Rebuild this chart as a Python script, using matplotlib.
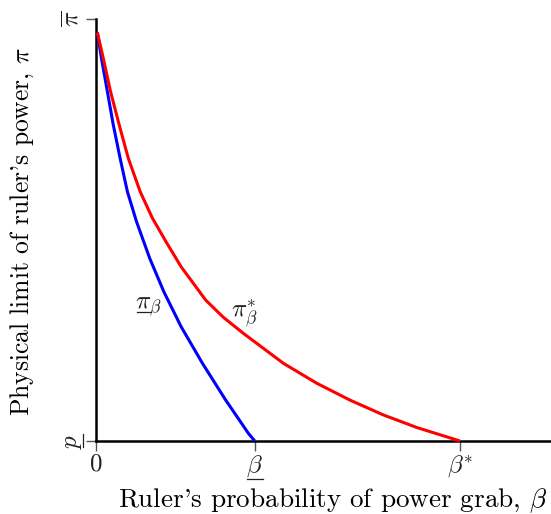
import matplotlib
matplotlib.use("Agg")
import matplotlib.pyplot as plt
from matplotlib.lines import Line2D

plt.rcParams['mathtext.fontset'] = 'cm'
plt.rcParams['font.family'] = ['cmr10', 'DejaVu Serif']
plt.rcParams['axes.formatter.use_mathtext'] = True

# data (normalized: beta axis 0..1, pi axis p=0 .. pibar=1)
beta_low = 0.349
beta_star = 0.80
red_x = [0.003, 0.016, 0.032, 0.051, 0.071, 0.097, 0.124, 0.154, 0.187, 0.241,
         0.280, 0.324, 0.412, 0.485, 0.558, 0.631, 0.705, 0.80]
red_y = [0.968, 0.907, 0.828, 0.749, 0.670, 0.591, 0.528, 0.472, 0.413, 0.334,
         0.293, 0.255, 0.184, 0.137, 0.097, 0.062, 0.032, 0.0]
blue_x = [0.003, 0.012, 0.025, 0.038, 0.053, 0.069, 0.089, 0.118, 0.149, 0.187,
          0.234, 0.285, 0.335, 0.349]
blue_y = [0.968, 0.907, 0.828, 0.749, 0.670, 0.591, 0.520, 0.433, 0.354, 0.271,
          0.184, 0.097, 0.018, 0.0]
xtick_vals = [0.0, beta_low, beta_star]
xtick_labels = ['$0$', r'$\beta$', r'$\beta^{*}$']
ytick_vals = [0.0, 1.0]
ytick_labels = ['$p$', r'$\overline{\pi}$']

W, H = 551, 514
fig = plt.figure(figsize=(W / 100, H / 100), dpi=100)
ax = fig.add_axes([96 / W, (H - 441) / H, 455 / W, 422 / H])
ax.set_xlim(0, 1)
ax.set_ylim(0, 1)

ax.plot(blue_x, blue_y, color='#0000ff', lw=2.2, solid_capstyle='butt',
        solid_joinstyle='round', clip_on=False, zorder=3)
ax.plot(red_x, red_y, color='#ff0000', lw=2.2, solid_capstyle='butt',
        solid_joinstyle='round', clip_on=False, zorder=3)

for s in ['top', 'right']:
    ax.spines[s].set_visible(False)
for s in ['left', 'bottom']:
    ax.spines[s].set_linewidth(1.8)
    ax.spines[s].set_color('black')

ax.set_xticks(xtick_vals)
ax.set_xticklabels(xtick_labels, fontsize=18, color='#222222')
ax.set_yticks(ytick_vals)
ax.set_yticklabels(ytick_labels, fontsize=18, color='#222222', rotation=90, va='center')
ax.tick_params(axis='both', direction='out', length=7, width=1.0, color='#555555', pad=2)

ax.set_xlabel(r"Ruler's probability of power grab, $\beta$", fontsize=19.5)
ax.xaxis.set_label_coords(0.521, -0.108)
ax.set_ylabel(r"Physical limit of ruler's power, $\pi$", fontsize=18.4)
ax.yaxis.set_label_coords(-0.132, 0.496)

ax.text(0.086, 0.314, r'$\pi_{\beta}$', fontsize=18, ha='left', va='baseline', color='#222222')
ax.text(0.297, 0.293, r'$\pi^{*}_{\beta}$', fontsize=18, ha='left', va='baseline', color='#222222')

def uline(x0, x1, y0, y1):
    fig.add_artist(Line2D([x0 / W, x1 / W], [1 - y0 / H, 1 - y1 / H], color='#222222', lw=0.9))

uline(246.7, 262.7, 479, 479)      # under beta tick label
uline(136.7, 150.7, 311.7, 311.7)  # under pi of pi_beta label
uline(83, 83, 434, 447)            # under rotated p tick label

fig.savefig('out.png', dpi=100)
